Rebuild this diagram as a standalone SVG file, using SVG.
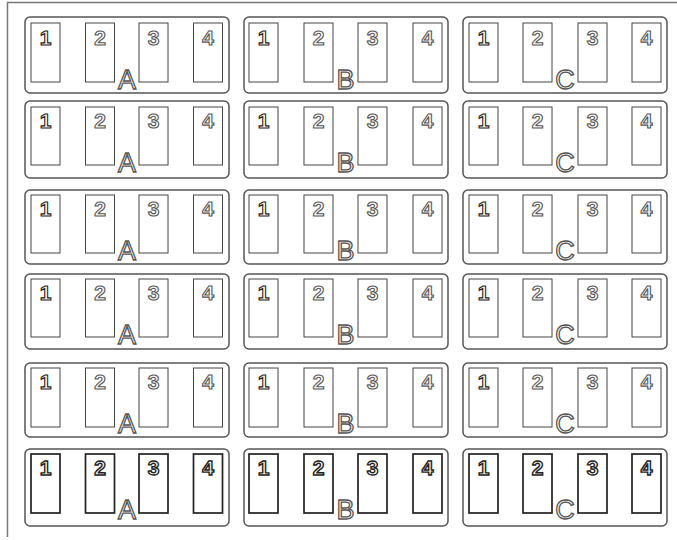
<svg xmlns="http://www.w3.org/2000/svg" width="677" height="540" viewBox="0 0 677 540">
<style>
.frame{fill:none;stroke:#777;stroke-width:1.5}
.panel{fill:#fff;stroke:#555;stroke-width:1.5}
.slot{fill:#fff;stroke:#444;stroke-width:1}
.slot6{fill:#fff;stroke:#222;stroke-width:1.7}
.dg{font-family:"Liberation Sans",Arial,sans-serif;font-weight:bold;font-size:21px;fill:#fff;stroke:#555;stroke-width:1.1;text-anchor:middle}
.d1{stroke:#222}
.dg6{stroke:#222;stroke-width:1.4}
.lb{font-family:"Liberation Sans",Arial,sans-serif;font-size:27px;fill:#fff;stroke:#555;stroke-width:1.3;text-anchor:middle}
</style>
<rect x="0" y="0" width="677" height="540" fill="#fff"/>
<path class="frame" d="M7.5,537 V2.5 H677"/>
<g id="connectors"></g>

<!-- Row 1 -->
<g id="r1A"><rect class="panel" x="25" y="17" width="204" height="76" rx="5"/>
<rect class="slot" x="31" y="23" width="29" height="59"/><rect class="slot" x="85.5" y="23" width="29" height="59"/><rect class="slot" x="139" y="23" width="29" height="59"/><rect class="slot" x="193.5" y="23" width="29" height="59"/>
<text class="dg d1" x="45.5" y="45">1</text><text class="dg" x="100" y="45">2</text><text class="dg" x="153.5" y="45">3</text><text class="dg" x="208" y="45">4</text>
<text class="lb" x="127" y="89">A</text></g>
<g id="r1B"><rect class="panel" x="244" y="17" width="204" height="76" rx="5"/>
<rect class="slot" x="249" y="23" width="29" height="59"/><rect class="slot" x="304" y="23" width="29" height="59"/><rect class="slot" x="358" y="23" width="29" height="59"/><rect class="slot" x="413" y="23" width="29" height="59"/>
<text class="dg d1" x="263.5" y="45">1</text><text class="dg" x="318.5" y="45">2</text><text class="dg" x="372.5" y="45">3</text><text class="dg" x="427.5" y="45">4</text>
<text class="lb" x="345.5" y="89">B</text></g>
<g id="r1C"><rect class="panel" x="463" y="17" width="204" height="76" rx="5"/>
<rect class="slot" x="469" y="23" width="29" height="59"/><rect class="slot" x="523" y="23" width="29" height="59"/><rect class="slot" x="578" y="23" width="29" height="59"/><rect class="slot" x="632" y="23" width="29" height="59"/>
<text class="dg d1" x="483.5" y="45">1</text><text class="dg" x="537.5" y="45">2</text><text class="dg" x="592.5" y="45">3</text><text class="dg" x="646.5" y="45">4</text>
<text class="lb" x="565" y="89">C</text></g>

<!-- Row 2 -->
<g id="r2A"><rect class="panel" x="25" y="101" width="204" height="77" rx="5"/>
<rect class="slot" x="31" y="107" width="29" height="58"/><rect class="slot" x="85.5" y="107" width="29" height="58"/><rect class="slot" x="139" y="107" width="29" height="58"/><rect class="slot" x="193.5" y="107" width="29" height="58"/>
<text class="dg d1" x="45.5" y="128">1</text><text class="dg" x="100" y="128">2</text><text class="dg" x="153.5" y="128">3</text><text class="dg" x="208" y="128">4</text>
<text class="lb" x="127" y="172">A</text></g>
<g id="r2B"><rect class="panel" x="244" y="101" width="204" height="77" rx="5"/>
<rect class="slot" x="249" y="107" width="29" height="58"/><rect class="slot" x="304" y="107" width="29" height="58"/><rect class="slot" x="358" y="107" width="29" height="58"/><rect class="slot" x="413" y="107" width="29" height="58"/>
<text class="dg d1" x="263.5" y="128">1</text><text class="dg" x="318.5" y="128">2</text><text class="dg" x="372.5" y="128">3</text><text class="dg" x="427.5" y="128">4</text>
<text class="lb" x="345.5" y="172">B</text></g>
<g id="r2C"><rect class="panel" x="463" y="101" width="204" height="77" rx="5"/>
<rect class="slot" x="469" y="107" width="29" height="58"/><rect class="slot" x="523" y="107" width="29" height="58"/><rect class="slot" x="578" y="107" width="29" height="58"/><rect class="slot" x="632" y="107" width="29" height="58"/>
<text class="dg d1" x="483.5" y="128">1</text><text class="dg" x="537.5" y="128">2</text><text class="dg" x="592.5" y="128">3</text><text class="dg" x="646.5" y="128">4</text>
<text class="lb" x="565" y="172">C</text></g>

<!-- Row 3 -->
<g id="r3A"><rect class="panel" x="25" y="190" width="204" height="74" rx="5"/>
<rect class="slot" x="31" y="195" width="29" height="58"/><rect class="slot" x="85.5" y="195" width="29" height="58"/><rect class="slot" x="139" y="195" width="29" height="58"/><rect class="slot" x="193.5" y="195" width="29" height="58"/>
<text class="dg d1" x="45.5" y="216">1</text><text class="dg" x="100" y="216">2</text><text class="dg" x="153.5" y="216">3</text><text class="dg" x="208" y="216">4</text>
<text class="lb" x="127" y="260">A</text></g>
<g id="r3B"><rect class="panel" x="244" y="190" width="204" height="74" rx="5"/>
<rect class="slot" x="249" y="195" width="29" height="58"/><rect class="slot" x="304" y="195" width="29" height="58"/><rect class="slot" x="358" y="195" width="29" height="58"/><rect class="slot" x="413" y="195" width="29" height="58"/>
<text class="dg d1" x="263.5" y="216">1</text><text class="dg" x="318.5" y="216">2</text><text class="dg" x="372.5" y="216">3</text><text class="dg" x="427.5" y="216">4</text>
<text class="lb" x="345.5" y="260">B</text></g>
<g id="r3C"><rect class="panel" x="463" y="190" width="204" height="74" rx="5"/>
<rect class="slot" x="469" y="195" width="29" height="58"/><rect class="slot" x="523" y="195" width="29" height="58"/><rect class="slot" x="578" y="195" width="29" height="58"/><rect class="slot" x="632" y="195" width="29" height="58"/>
<text class="dg d1" x="483.5" y="216">1</text><text class="dg" x="537.5" y="216">2</text><text class="dg" x="592.5" y="216">3</text><text class="dg" x="646.5" y="216">4</text>
<text class="lb" x="565" y="260">C</text></g>

<!-- Row 4 -->
<g id="r4A"><rect class="panel" x="25" y="274" width="204" height="75" rx="5"/>
<rect class="slot" x="31" y="279" width="29" height="58"/><rect class="slot" x="85.5" y="279" width="29" height="58"/><rect class="slot" x="139" y="279" width="29" height="58"/><rect class="slot" x="193.5" y="279" width="29" height="58"/>
<text class="dg d1" x="45.5" y="300">1</text><text class="dg" x="100" y="300">2</text><text class="dg" x="153.5" y="300">3</text><text class="dg" x="208" y="300">4</text>
<text class="lb" x="127" y="344">A</text></g>
<g id="r4B"><rect class="panel" x="244" y="274" width="204" height="75" rx="5"/>
<rect class="slot" x="249" y="279" width="29" height="58"/><rect class="slot" x="304" y="279" width="29" height="58"/><rect class="slot" x="358" y="279" width="29" height="58"/><rect class="slot" x="413" y="279" width="29" height="58"/>
<text class="dg d1" x="263.5" y="300">1</text><text class="dg" x="318.5" y="300">2</text><text class="dg" x="372.5" y="300">3</text><text class="dg" x="427.5" y="300">4</text>
<text class="lb" x="345.5" y="344">B</text></g>
<g id="r4C"><rect class="panel" x="463" y="274" width="204" height="75" rx="5"/>
<rect class="slot" x="469" y="279" width="29" height="58"/><rect class="slot" x="523" y="279" width="29" height="58"/><rect class="slot" x="578" y="279" width="29" height="58"/><rect class="slot" x="632" y="279" width="29" height="58"/>
<text class="dg d1" x="483.5" y="300">1</text><text class="dg" x="537.5" y="300">2</text><text class="dg" x="592.5" y="300">3</text><text class="dg" x="646.5" y="300">4</text>
<text class="lb" x="565" y="344">C</text></g>

<!-- Row 5 -->
<g id="r5A"><rect class="panel" x="25" y="363" width="204" height="74" rx="5"/>
<rect class="slot" x="31" y="368" width="29" height="59"/><rect class="slot" x="85.5" y="368" width="29" height="59"/><rect class="slot" x="139" y="368" width="29" height="59"/><rect class="slot" x="193.5" y="368" width="29" height="59"/>
<text class="dg d1" x="45.5" y="389">1</text><text class="dg" x="100" y="389">2</text><text class="dg" x="153.5" y="389">3</text><text class="dg" x="208" y="389">4</text>
<text class="lb" x="127" y="433">A</text></g>
<g id="r5B"><rect class="panel" x="244" y="363" width="204" height="74" rx="5"/>
<rect class="slot" x="249" y="368" width="29" height="59"/><rect class="slot" x="304" y="368" width="29" height="59"/><rect class="slot" x="358" y="368" width="29" height="59"/><rect class="slot" x="413" y="368" width="29" height="59"/>
<text class="dg d1" x="263.5" y="389">1</text><text class="dg" x="318.5" y="389">2</text><text class="dg" x="372.5" y="389">3</text><text class="dg" x="427.5" y="389">4</text>
<text class="lb" x="345.5" y="433">B</text></g>
<g id="r5C"><rect class="panel" x="463" y="363" width="204" height="74" rx="5"/>
<rect class="slot" x="469" y="368" width="29" height="59"/><rect class="slot" x="523" y="368" width="29" height="59"/><rect class="slot" x="578" y="368" width="29" height="59"/><rect class="slot" x="632" y="368" width="29" height="59"/>
<text class="dg d1" x="483.5" y="389">1</text><text class="dg" x="537.5" y="389">2</text><text class="dg" x="592.5" y="389">3</text><text class="dg" x="646.5" y="389">4</text>
<text class="lb" x="565" y="433">C</text></g>

<!-- Row 6 -->
<g id="r6A"><rect class="panel" x="25" y="449" width="204" height="77" rx="5"/>
<rect class="slot6" x="31" y="454" width="29" height="59"/><rect class="slot6" x="85.5" y="454" width="29" height="59"/><rect class="slot6" x="139" y="454" width="29" height="59"/><rect class="slot6" x="193.5" y="454" width="29" height="59"/>
<text class="dg dg6" x="45.5" y="475">1</text><text class="dg dg6" x="100" y="475">2</text><text class="dg dg6" x="153.5" y="475">3</text><text class="dg dg6" x="208" y="475">4</text>
<text class="lb" x="127" y="519">A</text></g>
<g id="r6B"><rect class="panel" x="244" y="449" width="204" height="77" rx="5"/>
<rect class="slot6" x="249" y="454" width="29" height="59"/><rect class="slot6" x="304" y="454" width="29" height="59"/><rect class="slot6" x="358" y="454" width="29" height="59"/><rect class="slot6" x="413" y="454" width="29" height="59"/>
<text class="dg dg6" x="263.5" y="475">1</text><text class="dg dg6" x="318.5" y="475">2</text><text class="dg dg6" x="372.5" y="475">3</text><text class="dg dg6" x="427.5" y="475">4</text>
<text class="lb" x="345.5" y="519">B</text></g>
<g id="r6C"><rect class="panel" x="463" y="449" width="204" height="77" rx="5"/>
<rect class="slot6" x="469" y="454" width="29" height="59"/><rect class="slot6" x="523" y="454" width="29" height="59"/><rect class="slot6" x="578" y="454" width="29" height="59"/><rect class="slot6" x="632" y="454" width="29" height="59"/>
<text class="dg dg6" x="483.5" y="475">1</text><text class="dg dg6" x="537.5" y="475">2</text><text class="dg dg6" x="592.5" y="475">3</text><text class="dg dg6" x="646.5" y="475">4</text>
<text class="lb" x="565" y="519">C</text></g>
</svg>
